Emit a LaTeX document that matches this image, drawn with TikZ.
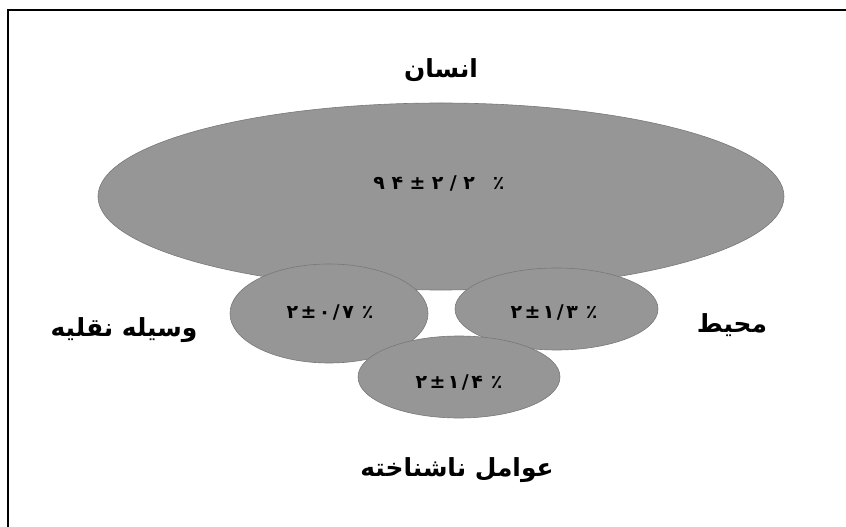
\documentclass[tikz,border=0pt]{standalone}
\usepackage{fontspec}
\TeXXeTstate=1
\newfontfamily\arabicfont[Script=Arabic]{DejaVu Sans}
\newcommand{\gp}{\kern2.5bp}
\newcommand{\gpw}{\kern8bp}
\newcommand{\gpb}{\kern6.5bp}
\newcommand{\gpbw}{\kern18bp}
\definecolor{ellfill}{RGB}{150,150,150}
\definecolor{elldraw}{RGB}{120,120,120}
\usetikzlibrary{shapes.geometric}
\tikzset{
  blob/.style={ellipse, fill=ellfill, draw=elldraw, line width=0.6bp, inner sep=0pt},
  lab/.style={font=\arabicfont\bfseries\fontsize{25}{30}\selectfont, inner sep=0pt},
  num/.style={font=\arabicfont\bfseries\fontsize{19}{22}\selectfont, inner sep=0pt}
}
\begin{document}
\begin{tikzpicture}[x=1bp,y=-1bp]
\useasboundingbox (0,0) rectangle (846,527);
\draw[line width=2.5bp] (8,560) -- (8,10) -- (880,10);
\node[blob, minimum width=686bp, minimum height=187bp] (big) at (441,196.5) {};
\node[blob, minimum width=198bp, minimum height=99bp] (left) at (329,313.5) {};
\node[blob, minimum width=203bp, minimum height=82bp] (right) at (556.5,309) {};
\node[blob, minimum width=202bp, minimum height=82bp] (bottom) at (459,377) {};
\node[num] (nbig) at (439,183) {\beginR ٪\gpbw\beginL ۹\gpb ۴\gpb ±\gpb ۲\gpb /\gpb ۲\endL\endR};
\node[num] (nleft) at (330,312) {\beginR ٪\gpw\beginL ۲\gp ±\gp ۰\gp /\gp ۷\endL\endR};
\node[num] (nright) at (554,312) {\beginR ٪\gpw\beginL ۲\gp ±\gp ۱\gp /\gp ۳\endL\endR};
\node[num] (nbottom) at (459,382) {\beginR ٪\gpw\beginL ۲\gp ±\gp ۱\gp /\gp ۴\endL\endR};
\node[lab] (tins) at (441,70) {\beginR انسان\endR};
\node[lab] (tveh) at (124,330) {\beginR وسیله نقلیه\endR};
\node[lab] (tenv) at (732,325) {\beginR محیط\endR};
\node[lab] (tunk) at (457,470) {\beginR عوامل ناشناخته\endR};
\end{tikzpicture}
\end{document}
